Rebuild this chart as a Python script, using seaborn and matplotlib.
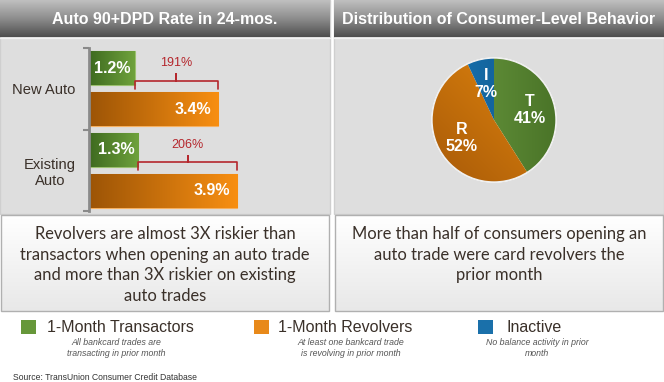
import numpy as np
import pandas as pd
import matplotlib
matplotlib.use("Agg")
import matplotlib.pyplot as plt
from matplotlib.colors import LinearSegmentedColormap
from matplotlib.patches import Rectangle, Circle
import seaborn as sns

# chart data
categories = ["New Auto", "Existing\nAuto"]
transactor_rates = [1.2, 1.3]
revolver_rates = [3.4, 3.9]
lift_labels = ["191%", "206%"]
segment_letters = ["T", "R", "I"]
segment_shares = [41, 52, 7]
legend_names = ["1-Month Transactors", "1-Month Revolvers", "Inactive"]
legend_notes = ["All bankcard trades are\ntransacting in prior month",
                "At least one bankcard trade\nis revolving in prior month",
                "No balance activity in prior\nmonth"]
left_title = "Auto 90+DPD Rate in 24-mos."
right_title = "Distribution of Consumer-Level Behavior"
left_note = ("Revolvers are almost 3X riskier than\ntransactors when opening an auto trade\n"
             "and more than 3X riskier on existing\nauto trades")
right_note = "More than half of consumers opening an\nauto trade were card revolvers the\nprior month"
source_text = "Source: TransUnion Consumer Credit Database"

GREEN, ORANGE, BLUE = "#66973a", "#e8891a", "#1a70aa"
RED = "#b5272d"
TEXT = "#3a3029"

sns.set_style("white")
plt.rcParams["font.family"] = ["Liberation Sans", "DejaVu Sans"]

fig = plt.figure(figsize=(6.64, 3.82), dpi=100)

# background canvas in pixel coordinates
bg = fig.add_axes([0, 0, 1, 1])
bg.set_xlim(0, 664)
bg.set_ylim(382, 0)
bg.axis("off")


def gradient(ax, extent, colors, horizontal=False, clip=None, z=1):
    arr = np.linspace(0, 1, 256)
    arr = arr.reshape(1, -1) if horizontal else arr.reshape(-1, 1)
    cmap = LinearSegmentedColormap.from_list("g", colors)
    im = ax.imshow(arr, extent=extent, cmap=cmap, aspect="auto",
                   origin="upper", zorder=z, interpolation="bilinear")
    if clip is not None:
        im.set_clip_path(clip)
    return im


# panels and title bars
for x0, title in [(0, left_title), (334, right_title)]:
    bg.add_patch(Rectangle((x0, 0), 330, 214, fc="#dedede", ec="#cfcfcf", lw=1, zorder=0))
    gradient(bg, (x0, x0 + 330, 37, 0), ["#c0c0c0", "#8d8d8d", "#4e4e4e"])
    bg.plot([x0, x0 + 330], [38, 38], color="#f2f2f2", lw=1, zorder=2)
    bg.text(x0 + 165, 19, title, color="white", fontsize=11.5, fontweight="bold",
            ha="center", va="center", zorder=3)

# text boxes
for x0, note in [(1, left_note), (335, right_note)]:
    box = Rectangle((x0, 215), 328, 96, fc="none", ec="#b0b0b0", lw=1, zorder=3)
    bg.add_patch(box)
    gradient(bg, (x0, x0 + 328, 311, 215), ["#ffffff", "#e8e8e8"], z=2)
    bg.text(x0 + 164, 226, note, color=TEXT, fontsize=11.9, family=["Lato", "DejaVu Sans"],
            ha="center", va="top", multialignment="center", linespacing=1.36, zorder=4)

# legend
legend_x = [21, 254, 478]
legend_colors = [GREEN, ORANGE, BLUE]
name_x = [47, 278, 507]
note_x = [116, 351, 537]
for lx, col, nx, name, tx, note in zip(legend_x, legend_colors, name_x, legend_names, note_x, legend_notes):
    bg.add_patch(Rectangle((lx, 320), 15, 14, fc=col, ec="none", zorder=3))
    bg.text(nx, 327.5, name, color=TEXT, fontsize=11.5, ha="left", va="center", zorder=3)
    bg.text(tx, 348, note, color="#555555", fontsize=6.3, style="italic",
            ha="center", va="center", multialignment="center", linespacing=1.15, zorder=3)

bg.text(13, 377, source_text, color="#333333", fontsize=6.2, ha="left", va="center")

# bar chart
df = pd.DataFrame({
    "category": categories * 2,
    "group": ["Transactors"] * 2 + ["Revolvers"] * 2,
    "rate": transactor_rates + revolver_rates,
})
ax = fig.add_axes([89 / 664, 1 - 211 / 382, 209 / 664, 163 / 382])
ax.patch.set_alpha(0)
sns.barplot(data=df, y="category", x="rate", hue="group", orient="h", ax=ax,
            palette=[GREEN, ORANGE], width=1.0, gap=0.16, legend=False)

bar_shades = [["#3e6a20", "#6fa23c"], ["#9c5406", "#f88f12"]]
bar_edges = ["#9cc170", "#f6b060"]
label_pad = [-3, -5]
for k, cont in enumerate(ax.containers):
    for bar in cont:
        bar.set_edgecolor(bar_edges[k])
        bar.set_linewidth(0.8)
        x0, y0 = bar.get_x(), bar.get_y()
        w, h = bar.get_width(), bar.get_height()
        gradient(ax, (x0, x0 + w, y0 + h, y0), bar_shades[k], horizontal=True, clip=bar, z=2.5)
        ax.annotate(f"{w:.1f}%", (x0 + w, y0 + h / 2), xytext=(label_pad[k], 0),
                    textcoords="offset points", ha="right", va="center",
                    color="white", fontsize=11.5, fontweight="bold", zorder=4)

# lift brackets between transactor and revolver bars
for i, (t, r, lab) in enumerate(zip(transactor_rates, revolver_rates, lift_labels)):
    yh = i - 0.1
    mid = (t + r) / 2
    ax.plot([t, t, mid - 0.05, mid, mid, mid, mid + 0.05, r, r],
            [yh + 0.1, yh, yh, yh, yh - 0.08, yh, yh, yh, yh + 0.1],
            color=RED, lw=1.2, solid_joinstyle="round", zorder=3)
    ax.text(mid, yh - 0.21, lab, color=RED, fontsize=9, ha="center", va="center")

ax.set_xlim(0, 5.5)
ax.set_ylim(1.5, -0.5)
ax.set_xlabel("")
ax.set_ylabel("")
ax.set_xticks([])
ax.set_yticks([0, 1])
ax.set_yticklabels(categories, fontsize=10.6, color=TEXT, multialignment="center")
ax.set_yticks([-0.5, 0.5, 1.5], minor=True)
ax.tick_params(axis="y", which="major", length=0, pad=9.5)
ax.tick_params(axis="y", which="minor", length=4, width=1.5, color="#8a8a8a", left=True)
for s in ["top", "right", "bottom"]:
    ax.spines[s].set_visible(False)
ax.spines["left"].set_color("#8a8a8a")
ax.spines["left"].set_linewidth(2)

# pie chart
pax = fig.add_axes([(494 - 65) / 664, 1 - (120 + 65) / 382, 130 / 664, 130 / 382])
wedges, _ = pax.pie(segment_shares, colors=[GREEN, ORANGE, BLUE], startangle=90,
                    counterclock=False, radius=1)
pie_shades = [["#6e9e42", "#4a7428"], ["#a85a08", "#e4880f"], ["#1976b6", "#0e5485"]]
for k, w in enumerate(wedges):
    if k == 1:
        xx, yy = np.meshgrid(np.linspace(-1, 1, 200), np.linspace(1, -1, 200))
        arr = (xx + yy)
        cmap = LinearSegmentedColormap.from_list("p", pie_shades[k])
        im = pax.imshow(arr, extent=(-1, 1, -1, 1), cmap=cmap, origin="upper",
                        zorder=2, interpolation="bilinear")
        im.set_clip_path(w)
    else:
        gradient(pax, (-1, 1, -1, 1), pie_shades[k], horizontal=True, clip=w, z=2)
    ang = np.deg2rad((w.theta1 + w.theta2) / 2)
    pax.text(0.6 * np.cos(ang), 0.6 * np.sin(ang),
             f"{segment_letters[k]}\n{segment_shares[k]}%",
             color="white", fontsize=11.5, fontweight="bold", ha="center", va="center",
             linespacing=1.15, zorder=4)
pax.add_patch(Circle((0, 0), 1, fill=False, ec="#f0f0f0", lw=1, zorder=3))
pax.set_xlim(-65 / 62, 65 / 62)
pax.set_ylim(-65 / 62, 65 / 62)
pax.set_aspect("equal")
pax.axis("off")

fig.savefig("out.png", dpi=100)
